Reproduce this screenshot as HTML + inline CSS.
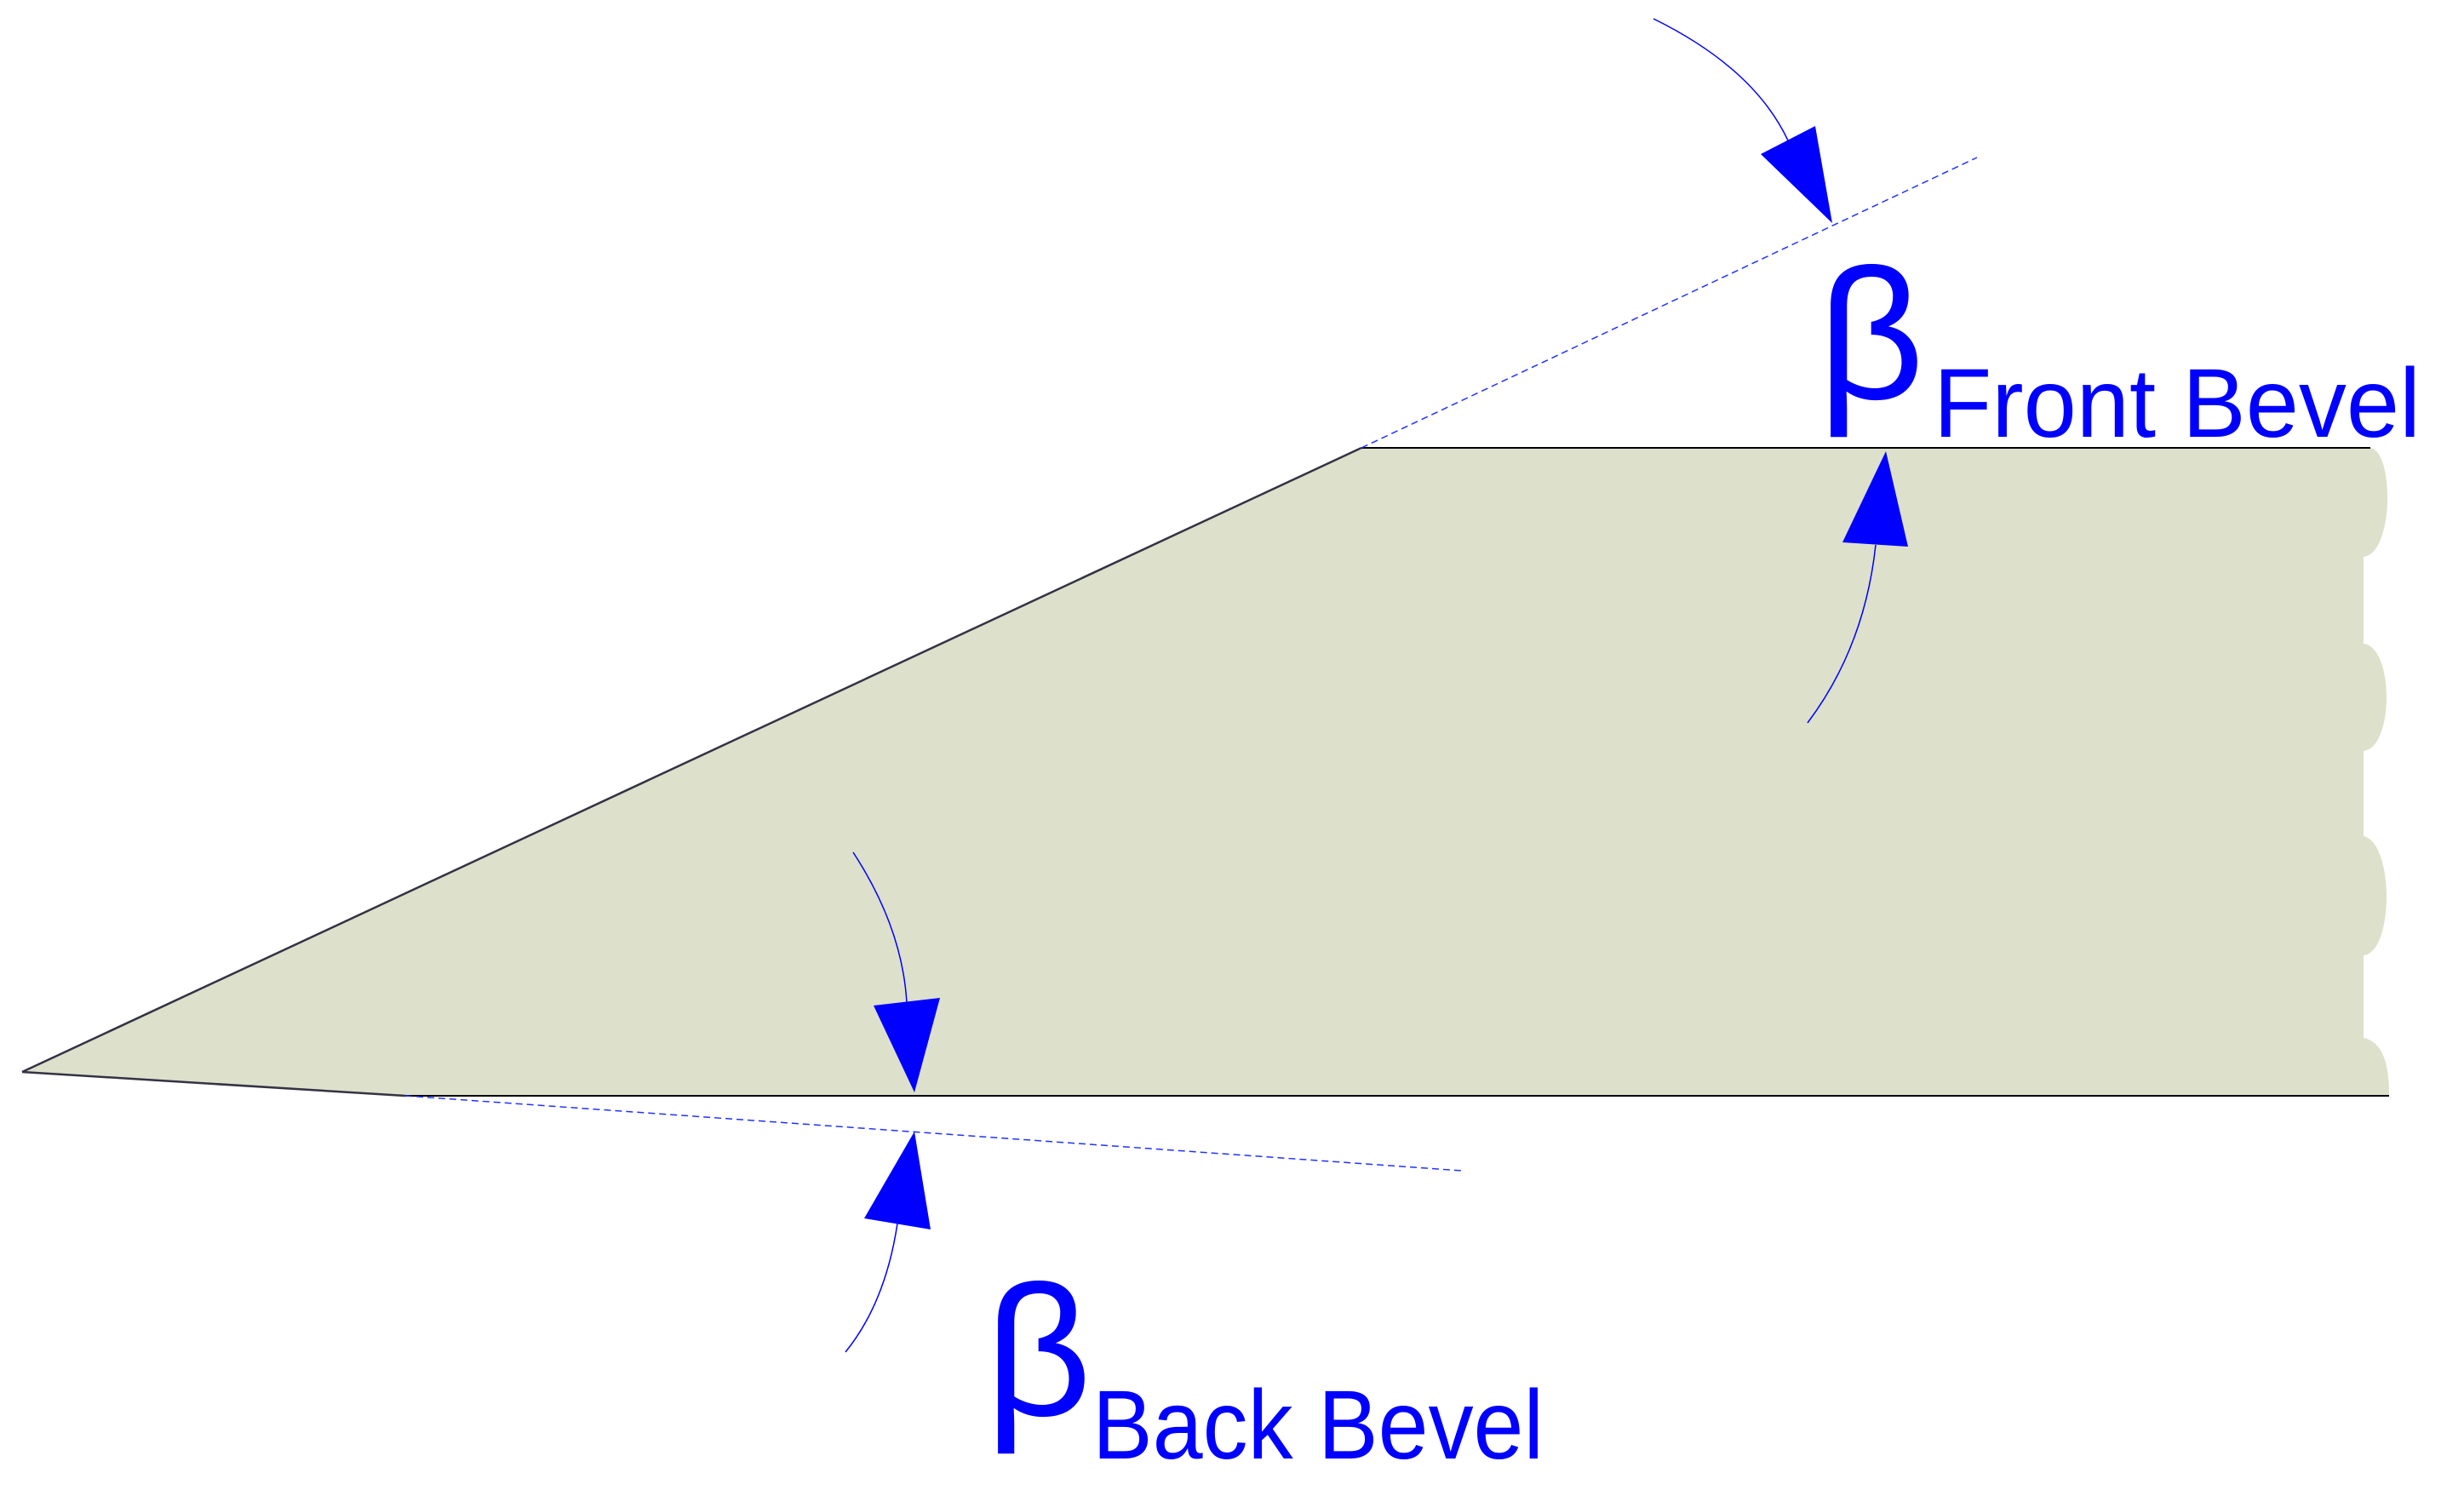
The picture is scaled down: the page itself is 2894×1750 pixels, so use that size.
<!DOCTYPE html>
<html><head><meta charset="utf-8"><style>html,body{margin:0;padding:0;background:#fff;}svg{display:block}</style></head>
<body>
<svg width="2894" height="1750" viewBox="0 0 2894 1750" xmlns="http://www.w3.org/2000/svg">
<path fill="#dde0cb" d="M26,1259 L1599,526 L2784,526 C2812,530 2812,650 2776,654 C2776,660 2776,750 2776,756 C2812,760 2812,878 2776,882 C2776,900 2776,975 2776,982 C2812,990 2812,1118 2776,1122 C2776,1140 2776,1210 2776,1219 C2806,1225 2806,1270 2806,1287 L476,1287 Z"/>
<line x1="26" y1="1259" x2="1599" y2="526" stroke="#333344" stroke-width="2.5"/>
<line x1="1599" y1="526" x2="2784" y2="526" stroke="#000" stroke-width="2"/>
<line x1="26" y1="1259" x2="476" y2="1287" stroke="#333344" stroke-width="2.5"/>
<line x1="476" y1="1287" x2="2806" y2="1287" stroke="#000" stroke-width="2"/>
<line x1="1599" y1="526" x2="2322" y2="185" stroke="#2233ff" stroke-width="1.5" stroke-dasharray="8,5"/>
<line x1="476" y1="1287" x2="1717" y2="1375" stroke="#2233ff" stroke-width="1.5" stroke-dasharray="8,5"/>
<g fill="none" stroke="#0000ff" stroke-width="1.5">
<path d="M1942,22 Q2060,80 2100,165"/>
<path d="M2203,640 Q2190,760 2123,849"/>
<path d="M1002,1001 Q1060,1090 1065,1178"/>
<path d="M1054,1437 Q1040,1530 993,1588"/>
</g>
<g fill="#0000ff">
<polygon points="2152,262 2068,181 2132,148"/>
<polygon points="2215,530 2164,637 2241,642"/>
<polygon points="1074,1283 1026,1181 1104,1172"/>
<polygon points="1074,1329 1015,1431 1093,1444"/>
</g>
<g font-family="Liberation Sans, sans-serif" fill="#0000ff">
<text x="2135" y="468" font-size="218">β</text>
<text x="2271" y="513" font-size="115" textLength="572" lengthAdjust="spacingAndGlyphs">Front Bevel</text>
<text x="1157" y="1662" font-size="218">β</text>
<text x="1283" y="1713" font-size="115" textLength="530" lengthAdjust="spacingAndGlyphs">Back Bevel</text>
</g>
</svg>
</body></html>
